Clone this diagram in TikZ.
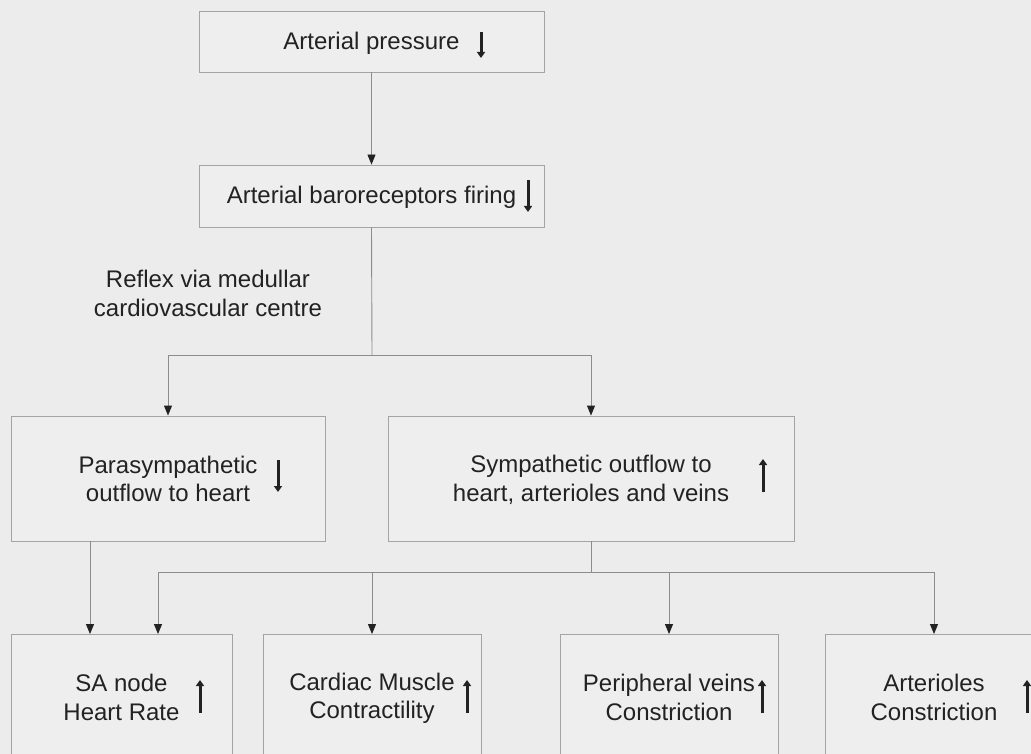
\documentclass[tikz,border=0pt]{standalone}
\usepackage{fontspec}
\setmainfont{Liberation Sans}
\usetikzlibrary{arrows.meta}
\definecolor{paper}{HTML}{ECECEC}
\definecolor{boxfill}{HTML}{EEEEEE}
\definecolor{boxline}{HTML}{A4A4A4}
\definecolor{wire}{HTML}{8C8C8C}
\definecolor{ink}{HTML}{222222}
% invisible rules that fix the height of the first and the depth of the last text line
\newcommand\lnTop{\rule{0pt}{20pt}}
\newcommand\lnBot{\rule[-2.5pt]{0pt}{2.5pt}}
\begin{document}
\begin{tikzpicture}[x=1pt,y=-1pt,
  box/.style={draw=boxline, fill=boxfill, line width=0.9pt, rectangle,
    inner sep=0pt, align=center, text=ink,
    font=\fontsize{24}{28.5}\selectfont},
  conn/.style={draw=wire, line width=0.9pt,
    -{Triangle[width=8pt,length=10pt,fill=ink,color=ink]}},
  wirepath/.style={draw=wire, line width=0.9pt},
  ind/.style={draw=ink, line width=3pt,
    -{Triangle[width=8pt,length=6pt]}},
  note/.style={align=center, text=ink, inner sep=0pt,
    font=\fontsize{24}{28.5}\selectfont}]
  % canvas
  \fill[paper] (0,0) rectangle (1031,754);
  \useasboundingbox (0,0) rectangle (1031,754);
  \clip (0,0) rectangle (1031,754);

  % boxes
  \node[box, minimum width=345pt, minimum height=61pt] (b1) at (371.5,41.5) {\lnTop Arterial pressure\lnBot};
  \node[box, minimum width=345pt, minimum height=62pt] (b2) at (371.5,196) {\lnTop Arterial baroreceptors firing\lnBot};
  \node[box, minimum width=314pt, minimum height=125pt] (para) at (168,478.5) {\lnTop Parasympathetic\\outflow to heart\lnBot};
  \node[box, minimum width=406pt, minimum height=125pt] (symp) at (591,478.5) {\lnTop Sympathetic outflow to\\heart, arterioles and veins\lnBot};
  \node[box, minimum width=221pt, minimum height=125pt] (sa) at (121.5,697) {\lnTop SA node\\Heart Rate\lnBot};
  \node[box, minimum width=218pt, minimum height=125pt] (card) at (372,697) {\lnTop Cardiac Muscle\\Contractility\lnBot};
  \node[box, minimum width=218pt, minimum height=125pt] (peri) at (669,697) {\lnTop Peripheral veins\\Constriction\lnBot};
  \node[box, minimum width=218pt, minimum height=125pt] (arte) at (934,697) {\lnTop Arterioles\\Constriction\lnBot};

  \node[note] (reflex) at (208,293) {\lnTop Reflex via medullar\\cardiovascular centre\lnBot};

  % junctions and drop positions
  \coordinate (j1) at (372,355);
  \coordinate (j2) at (591,572);
  \coordinate (pd) at (90,0);
  \coordinate (sd) at (158,0);

  % connectors
  \draw[conn] (b1) -- (b2);
  \draw[wirepath] (b2.south) -- (j1);
  \draw[conn] (j1) -| (para.north);
  \draw[conn] (j1) -| (symp.north);
  \draw[conn] (para.south -| pd) -- (sa.north -| pd);
  \draw[wirepath] (symp.south) -- (j2);
  \draw[conn] (j2) -| (sa.north -| sd);
  \draw[conn] (j2) -| (card.north);
  \draw[conn] (j2) -| (peri.north);
  \draw[conn] (j2) -| (arte.north);

  % up / down indicator arrows
  \draw[ind] (481,32) -- (481,58);
  \draw[ind] (528,180) -- (528,212);
  \draw[ind] (278,460) -- (278,492);
  \draw[ind] (763,492) -- (763,459);
  \draw[ind] (200,713) -- (200,680);
  \draw[ind] (467,713) -- (467,680);
  \draw[ind] (762,713) -- (762,680);
  \draw[ind] (1027,713) -- (1027,680);
\end{tikzpicture}
\end{document}
